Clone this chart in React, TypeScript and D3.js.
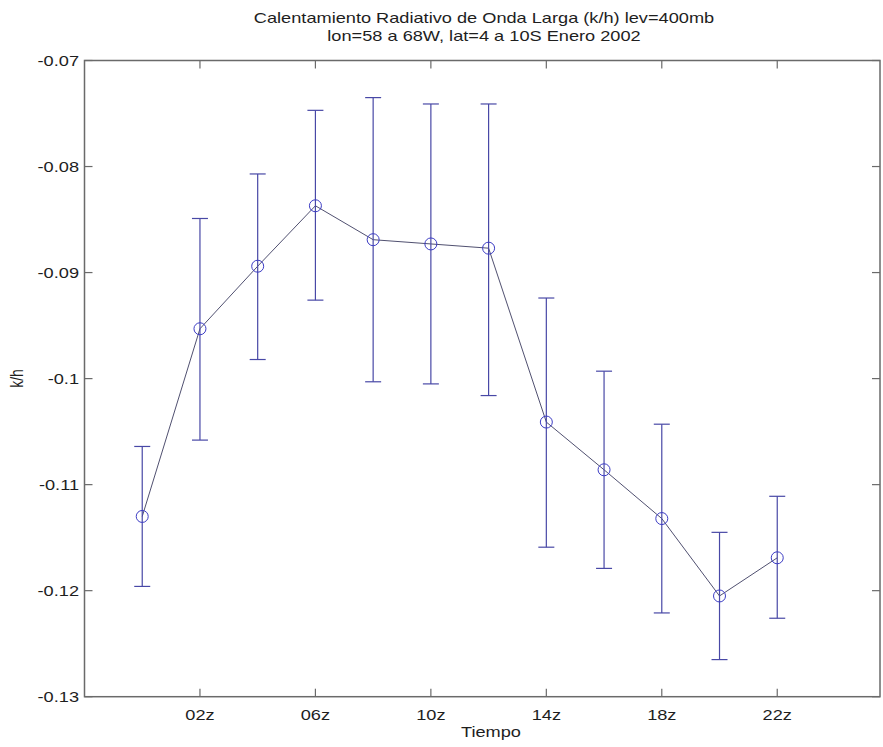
import React from "react";
import * as d3 from "d3";

// ---- data ----
const stepIndex = [1, 2, 3, 4, 5, 6, 7, 8, 9, 10, 11, 12]; // 00z .. 22z every 2 h
const meanValues = [-0.1130, -0.0953, -0.0894, -0.0837, -0.0869, -0.0873, -0.0877, -0.1041, -0.1086, -0.1132, -0.1205, -0.1169];
const upperValues = [-0.1064, -0.0849, -0.0807, -0.0747, -0.0735, -0.0741, -0.0741, -0.0924, -0.0993, -0.1043, -0.1145, -0.1111];
const lowerValues = [-0.1196, -0.1058, -0.0982, -0.0926, -0.1003, -0.1005, -0.1016, -0.1159, -0.1179, -0.1221, -0.1265, -0.1226];
const xTickValues = [2, 4, 6, 8, 10, 12];
const xTickLabels = ["02z", "06z", "10z", "14z", "18z", "22z"];
const yTickValues = [-0.07, -0.08, -0.09, -0.1, -0.11, -0.12, -0.13];
const yTickLabels = ["-0.07", "-0.08", "-0.09", "-0.1", "-0.11", "-0.12", "-0.13"];
const titleLines = [
  "Calentamiento Radiativo de Onda Larga (k/h) lev=400mb",
  "lon=58 a 68W, lat=4 a 10S  Enero 2002",
];
const xLabel = "Tiempo";
const yLabel = "k/h";

const W = 883;
const H = 747;
const left = 84.5;
const right = 880;
const top = 60.5;
const bottom = 696.7;
const SX = 1.3; // horizontal stretch of the original image's text
const FONT = "'Liberation Sans', Arial, Helvetica, sans-serif";
const textColor = "#1e1e1e";
const axisColor = "#6a6a6a";
const barColor = "#4848a6";
const markerColor = "#3c3cc4";
const lineColor = "#505070";

const x = d3.scaleLinear().domain([0, 13.78]).range([left, right]);
const y = d3.scaleLinear().domain([-0.13, -0.07]).range([bottom, top]);

function SText(props: {
  x: number;
  y: number;
  anchor?: string;
  size?: number;
  children: React.ReactNode;
  rotate?: number;
}) {
  const { size = 14, anchor = "middle", rotate = 0 } = props;
  return (
    <text
      transform={`translate(${props.x},${props.y}) scale(${SX},1)${rotate ? ` rotate(${rotate})` : ""}`}
      textAnchor={anchor}
      fontFamily={FONT}
      fontSize={size}
      fill={textColor}
    >
      {props.children}
    </text>
  );
}

export default function App() {
  const tick = 8;
  const cap = 8;
  const linePath = d3
    .line<number>()
    .x((_, i) => x(stepIndex[i]))
    .y((d) => y(d))(meanValues);

  return (
    <svg
      width={W}
      height={H}
      style={{ position: "absolute", left: 0, top: 0, background: "#fff", display: "block" }}
    >
      <rect x={0} y={0} width={W} height={H} fill="#fff" />

      {/* title */}
      <SText x={484} y={22.7}>{titleLines[0]}</SText>
      <SText x={484} y={40.5}>{titleLines[1]}</SText>

      {/* axes box */}
      <rect
        x={left}
        y={top}
        width={right - left}
        height={bottom - top}
        fill="none"
        stroke={axisColor}
        strokeWidth={1.5}
      />

      {/* x ticks */}
      {xTickValues.map((v, i) => (
        <g key={"xt" + v}>
          <line x1={x(v)} x2={x(v)} y1={bottom} y2={bottom - tick} stroke={axisColor} strokeWidth={1.2} />
          <line x1={x(v)} x2={x(v)} y1={top} y2={top + tick} stroke={axisColor} strokeWidth={1.2} />
          <SText x={x(v)} y={719.5}>{xTickLabels[i]}</SText>
        </g>
      ))}

      {/* y ticks */}
      {yTickValues.map((v, i) => (
        <g key={"yt" + v}>
          <line x1={left} x2={left + tick} y1={y(v)} y2={y(v)} stroke={axisColor} strokeWidth={1.2} />
          <line x1={right} x2={right - tick} y1={y(v)} y2={y(v)} stroke={axisColor} strokeWidth={1.2} />
          <SText x={79} y={y(v) + 5} anchor="end">{yTickLabels[i]}</SText>
        </g>
      ))}

      {/* axis labels */}
      <SText x={491} y={737}>{xLabel}</SText>
      <SText x={23} y={378.5} rotate={-90}>{yLabel}</SText>

      {/* connecting line */}
      <path d={linePath || ""} fill="none" stroke={lineColor} strokeWidth={1} />

      {/* error bars */}
      {stepIndex.map((s, i) => {
        const cx = x(s);
        return (
          <g key={"eb" + s}>
            <line x1={cx} x2={cx} y1={y(upperValues[i])} y2={y(lowerValues[i])} stroke={barColor} strokeWidth={1.2} />
            <line x1={cx - cap} x2={cx + cap} y1={y(upperValues[i])} y2={y(upperValues[i])} stroke={barColor} strokeWidth={1.2} />
            <line x1={cx - cap} x2={cx + cap} y1={y(lowerValues[i])} y2={y(lowerValues[i])} stroke={barColor} strokeWidth={1.2} />
            <circle cx={cx} cy={y(meanValues[i])} r={6} fill="none" stroke={markerColor} strokeWidth={1} />
          </g>
        );
      })}
    </svg>
  );
}
